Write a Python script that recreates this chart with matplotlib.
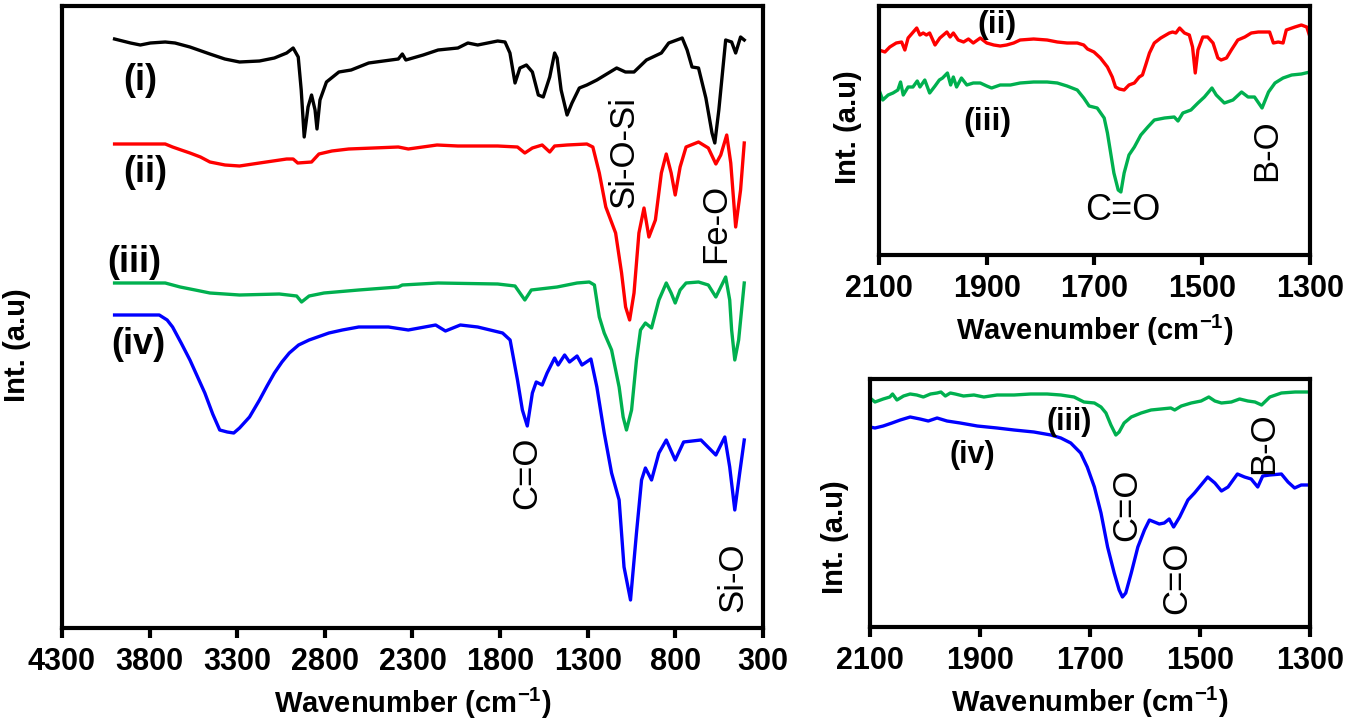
import matplotlib
matplotlib.use("Agg")
import matplotlib.pyplot as plt
import numpy as np

plt.rcParams['font.family'] = ['Liberation Sans', 'DejaVu Sans']
plt.rcParams['mathtext.fontset'] = 'custom'
plt.rcParams['mathtext.rm'] = 'Liberation Sans'
plt.rcParams['mathtext.bf'] = 'Liberation Sans:bold'

# ---- main panel: full FTIR spectra (wavenumber cm-1, intensity a.u.) ----
wn_i = [4000, 3909, 3853, 3796, 3711, 3655, 3570, 3456, 3371, 3287, 3173, 3088, 3018, 2981,
        2952, 2935, 2918, 2896, 2876, 2856, 2845, 2828, 2791, 2720, 2650, 2550, 2381, 2358,
        2338, 2239, 2154, 2041, 1984, 1928, 1814, 1772, 1744, 1715, 1687, 1650, 1616, 1582,
        1554, 1517, 1489, 1475, 1452, 1418, 1390, 1348, 1305, 1248, 1135, 1085, 1036, 965,
        880, 838, 761, 733, 705, 668, 626, 591, 575, 552, 513, 479, 456, 428, 407]
int_i = [589, 585, 583, 585, 586, 585, 581, 574, 569, 566, 567, 570, 575, 580,
         571, 538, 491, 521, 533, 518, 499, 528, 546, 556, 558, 565, 569, 574,
         568, 573, 578, 580, 585, 583, 587, 586, 575, 545, 560, 563, 556, 533,
         531, 551, 575, 570, 538, 513, 525, 540, 543, 548, 560, 556, 556, 568,
         575, 585, 590, 578, 561, 560, 530, 495, 485, 518, 588, 586, 575, 591, 588]

wn_ii = [4000, 3711, 3669, 3620, 3570, 3510, 3456, 3370, 3287, 3173, 3018, 2981, 2955, 2876,
         2834, 2760, 2664, 2381, 2324, 2160, 2041, 1814, 1701, 1659, 1616, 1560, 1517, 1489,
         1418, 1305, 1271, 1234, 1197, 1141, 1107, 1084, 1061, 1036, 1008, 979, 951, 914, 880,
         852, 824, 801, 773, 739, 668, 612, 569, 541, 507, 484, 456, 428, 407]
int_ii = [484, 484, 481, 478, 475, 471, 466, 463, 462, 465, 469, 469, 465, 466,
          474, 477, 479, 481, 479, 483, 482, 482, 481, 475, 480, 483, 476, 482,
          483, 484, 481, 455, 421, 395, 355, 321, 308, 335, 395, 420, 391, 408, 455,
          474, 455, 433, 461, 481, 486, 480, 464, 473, 493, 465, 401, 438, 485]

wn_iii = [4000, 3711, 3626, 3540, 3456, 3287, 3060, 2961, 2933, 2890, 2805, 2607, 2381, 2358,
          2154, 1814, 1715, 1659, 1622, 1475, 1361, 1291, 1262, 1234, 1206, 1164, 1121, 1098,
          1079, 1050, 1022, 999, 971, 936, 894, 852, 824, 801, 773, 739, 668, 612, 569, 541,
          513, 490, 479, 461, 439, 407]
int_iii = [345, 345, 341, 338, 335, 333, 334, 332, 326, 332, 335, 338, 341, 343,
           345, 344, 342, 328, 338, 341, 345, 346, 343, 311, 295, 278, 241, 211,
           198, 218, 268, 298, 305, 300, 328, 345, 335, 325, 338, 345, 346, 343, 331, 341,
           351, 328, 298, 268, 288, 345]

wn_iv = [4000, 3745, 3700, 3669, 3620, 3570, 3485, 3440, 3400, 3357, 3320, 3287, 3230, 3173,
         3130, 3088, 3045, 3003, 2950, 2890, 2777, 2700, 2607, 2437, 2324, 2168, 2112, 2027,
         1928, 1786, 1743, 1701, 1673, 1645, 1616, 1594, 1560, 1532, 1489, 1469, 1432, 1404,
         1361, 1333, 1282, 1248, 1206, 1164, 1121, 1093, 1056, 1022, 993, 971, 936, 894, 852,
         801, 753, 654, 569, 518, 490, 461, 433, 407]
int_iv = [313, 313, 308, 301, 285, 268, 235, 214, 198, 196, 195, 200, 211, 228,
          242, 255, 266, 275, 283, 288, 295, 298, 301, 301, 298, 303, 297, 303,
          301, 295, 288, 248, 218, 202, 235, 246, 243, 255, 270, 263, 273, 266,
          272, 263, 269, 241, 195, 155, 128, 61, 28, 95, 148, 160, 148, 175, 188,
          168, 186, 188, 173, 191, 161, 118, 155, 188]

# ---- top-right inset: (ii) and (iii), 2100-1300 cm-1 ----
wn_a2 = [2100, 2089, 2080, 2068, 2058, 2052, 2046, 2030, 2024, 2018, 2012, 2006, 1996, 1987,
         1974, 1968, 1962, 1953, 1943, 1934, 1925, 1912, 1900, 1887, 1875, 1863, 1850, 1838,
         1813, 1788, 1769, 1751, 1732, 1720, 1713, 1701, 1689, 1676, 1667, 1661, 1654, 1645,
         1636, 1626, 1617, 1611, 1605, 1598, 1589, 1577, 1561, 1555, 1549, 1542, 1533, 1524,
         1518, 1513, 1508, 1499, 1490, 1480, 1471, 1465, 1455, 1446, 1434, 1421, 1409, 1396,
         1384, 1375, 1368, 1359, 1350, 1344, 1328, 1316, 1306, 1300]
int_a2 = [205, 203, 208, 212, 213, 205, 217, 227, 220, 222, 220, 222, 210, 217,
          223, 218, 222, 215, 213, 216, 212, 217, 212, 210, 209, 210, 212, 215,
          216, 215, 213, 212, 212, 210, 206, 203, 197, 188, 178, 168, 166, 165,
          170, 172, 178, 180, 190, 202, 212, 217, 222, 223, 222, 227, 222, 220,
          208, 182, 205, 218, 218, 212, 197, 195, 197, 205, 215, 218, 222, 223,
          223, 223, 212, 213, 212, 225, 228, 230, 228, 218]

wn_a3 = [2100, 2093, 2083, 2074, 2065, 2060, 2055, 2046, 2037, 2029, 2024, 2015, 2006, 1996,
         1988, 1982, 1973, 1967, 1962, 1956, 1947, 1937, 1925, 1912, 1900, 1891, 1875, 1856,
         1838, 1813, 1788, 1769, 1751, 1732, 1720, 1710, 1695, 1682, 1676, 1670, 1664, 1656,
         1651, 1645, 1636, 1626, 1614, 1601, 1589, 1570, 1552, 1545, 1536, 1521, 1508, 1496,
         1482, 1474, 1459, 1443, 1427, 1415, 1403, 1389, 1377, 1365, 1350, 1334, 1316, 1300]
int_a3 = [165, 155, 160, 162, 165, 173, 160, 168, 168, 174, 168, 175, 162, 169,
          175, 177, 182, 170, 178, 168, 177, 170, 172, 172, 169, 167, 170, 170,
          172, 173, 173, 172, 169, 165, 157, 149, 147, 137, 122, 102, 82, 65,
          63, 82, 100, 108, 120, 128, 135, 137, 138, 134, 142, 145, 152, 158,
          167, 160, 152, 155, 163, 158, 158, 147, 163, 172, 177, 180, 181, 183]

# ---- bottom-right inset: (iii) and (iv), 2100-1300 cm-1 ----
wn_b3 = [2100, 2091, 2076, 2064, 2059, 2051, 2039, 2027, 2015, 2003, 1990, 1978, 1971, 1963,
         1954, 1945, 1930, 1911, 1893, 1869, 1838, 1808, 1778, 1753, 1729, 1711, 1692, 1680,
         1671, 1662, 1653, 1647, 1638, 1625, 1607, 1589, 1571, 1553, 1546, 1534, 1516, 1498,
         1484, 1473, 1461, 1443, 1428, 1413, 1400, 1388, 1373, 1352, 1327, 1300]
int_b3 = [229, 225, 228, 230, 233, 227, 231, 233, 232, 230, 233, 234, 235, 231,
          234, 233, 231, 232, 230, 232, 232, 233, 233, 232, 230, 225, 224, 220,
          214, 202, 192, 195, 204, 210, 214, 217, 218, 219, 217, 221, 224, 226,
          230, 226, 224, 225, 228, 226, 225, 222, 230, 234, 235, 235]

wn_b4 = [2100, 2091, 2076, 2060, 2045, 2027, 2009, 1994, 1978, 1960, 1936, 1905, 1869, 1838,
         1802, 1771, 1753, 1735, 1717, 1705, 1692, 1680, 1668, 1656, 1647, 1641, 1635, 1625,
         1613, 1601, 1592, 1583, 1574, 1565, 1556, 1548, 1537, 1522, 1510, 1501, 1486, 1473,
         1461, 1449, 1432, 1419, 1407, 1395, 1386, 1373, 1352, 1340, 1328, 1316, 1300]
int_b4 = [200, 199, 201, 204, 207, 210, 208, 206, 209, 206, 204, 201, 199, 197,
          195, 192, 189, 184, 174, 160, 140, 114, 80, 54, 37, 30, 34, 54,
          80, 97, 107, 105, 103, 104, 108, 100, 110, 127, 134, 140, 150, 144,
          136, 140, 153, 150, 148, 140, 151, 152, 153, 145, 139, 142, 142]

main_ticks = [4300, 3800, 3300, 2800, 2300, 1800, 1300, 800, 300]
inset_ticks = [2100, 1900, 1700, 1500, 1300]

RED = '#ff0000'
GREEN = '#00b04f'
BLUE = '#0000ff'
BLACK = '#000000'

W, H = 1347, 723
fig = plt.figure(figsize=(W / 100, H / 100), dpi=100)

XLABEL = r'Wavenumber (cm$^{\mathbf{-1}}$)'


def style_axes(ax, ticks, xlim, ylim):
    ax.set_xlim(*xlim)
    ax.set_ylim(*ylim)
    ax.set_xticks(ticks)
    ax.set_xticklabels([str(t) for t in ticks], fontsize=22, fontweight='bold')
    ax.set_yticks([])
    for s in ax.spines.values():
        s.set_linewidth(3)
    ax.tick_params(axis='x', direction='out', length=7, width=3, pad=7)
    ax.set_xlabel(XLABEL, fontsize=21, fontweight='bold', labelpad=6)


def ax_rect(x0, y0, x1, y1):
    return [x0 / W, 1 - y1 / H, (x1 - x0) / W, (y1 - y0) / H]


lw = 2.4

# main panel
ax = fig.add_axes(ax_rect(62, 6, 763, 628))
ax.plot(wn_i, int_i, color=BLACK, lw=lw)
ax.plot(wn_ii, int_ii, color=RED, lw=lw)
ax.plot(wn_iii, int_iii, color=GREEN, lw=lw)
ax.plot(wn_iv, int_iv, color=BLUE, lw=lw)
style_axes(ax, main_ticks, (4300, 300), (0, 622))
for txt, x, y in [('(i)', 3855, 548), ('(ii)', 3826, 456), ('(iii)', 3889, 366), ('(iv)', 3866, 283)]:
    ax.text(x, y, txt, fontsize=26, fontweight='bold', ha='center', va='center')
for txt, x, y in [('Si-O-Si', 1093, 476), ('Fe-O', 568, 405), ('C=O', 1647, 155), ('Si-O', 471, 51)]:
    ax.text(x, y, txt, fontsize=25, rotation=90, ha='center', va='center')
fig.text(17 / W, 1 - 345 / H, 'Int. (a.u)', fontsize=21, fontweight='bold',
         rotation=90, ha='center', va='center')

# top-right inset
ax1 = fig.add_axes(ax_rect(879, 6, 1310, 255))
ax1.plot(wn_a2, int_a2, color=RED, lw=lw)
ax1.plot(wn_a3, int_a3, color=GREEN, lw=lw)
style_axes(ax1, inset_ticks, (2100, 1300), (0, 249))
ax1.text(1881, 230, '(ii)', fontsize=23, fontweight='bold', ha='center', va='center')
ax1.text(1898, 133, '(iii)', fontsize=23, fontweight='bold', ha='center', va='center')
ax1.text(1647, 45, 'C=O', fontsize=26, ha='center', va='center')
ax1.text(1380, 105, 'B-O', fontsize=25, rotation=90, ha='center', va='center')
fig.text(848 / W, 1 - 127 / H, 'Int. (a.u)', fontsize=21, fontweight='bold',
         rotation=90, ha='center', va='center')

# bottom-right inset
ax2 = fig.add_axes(ax_rect(870, 379, 1310, 627))
ax2.plot(wn_b3, int_b3, color=GREEN, lw=lw)
ax2.plot(wn_b4, int_b4, color=BLUE, lw=lw)
style_axes(ax2, inset_ticks, (2100, 1300), (0, 248))
ax2.text(1738, 205, '(iii)', fontsize=22, fontweight='bold', ha='center', va='center')
ax2.text(1914, 172, '(iv)', fontsize=22, fontweight='bold', ha='center', va='center')
ax2.text(1634, 122, 'C=O', fontsize=25, rotation=90, ha='center', va='center')
ax2.text(1543, 49, 'C=O', fontsize=25, rotation=90, ha='center', va='center')
ax2.text(1384, 184, 'B-O', fontsize=25, rotation=90, ha='center', va='center')
fig.text(835 / W, 1 - 537 / H, 'Int. (a.u)', fontsize=21, fontweight='bold',
         rotation=90, ha='center', va='center')

fig.savefig('out.png', dpi=100)
